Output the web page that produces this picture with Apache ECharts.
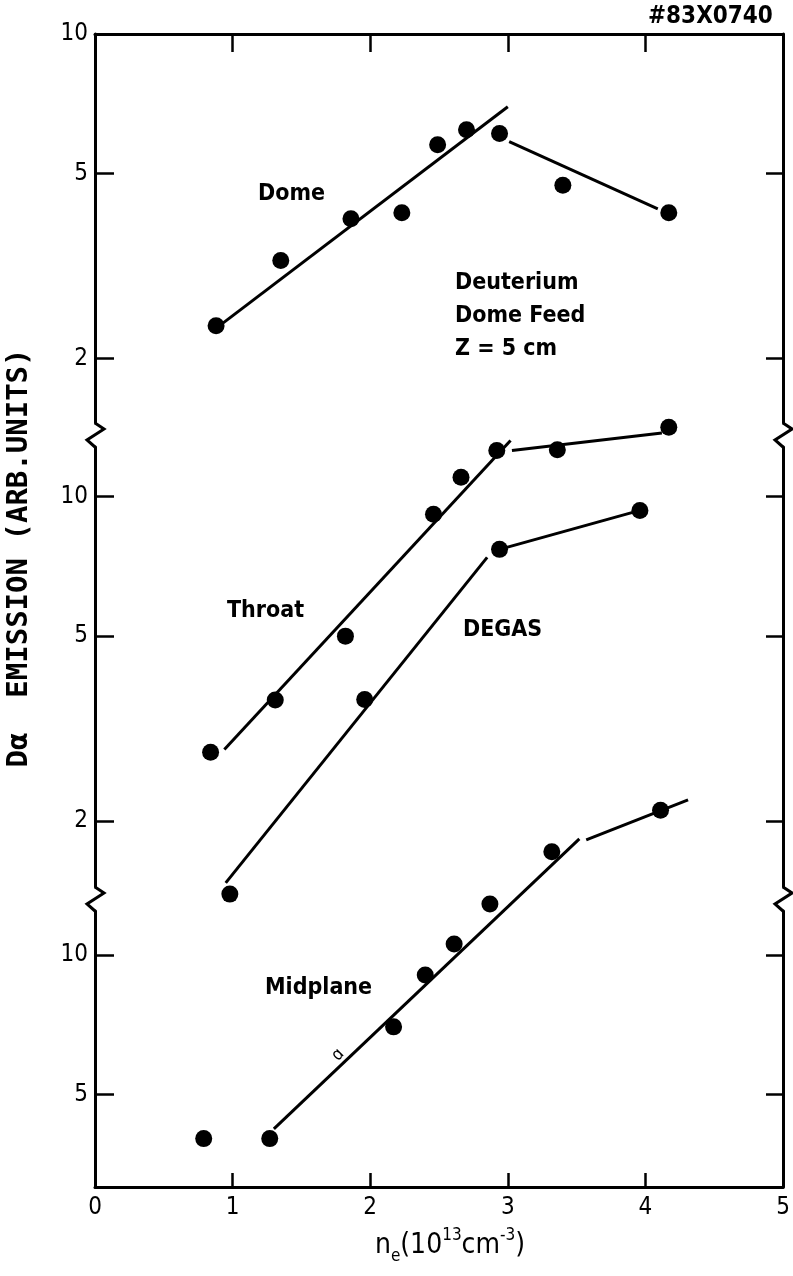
<!DOCTYPE html>
<html>
<head>
<meta charset="utf-8">
<script src="https://cdn.jsdelivr.net/npm/echarts@6/dist/echarts.min.js"></script>
<style>
  html, body { margin: 0; padding: 0; background: #fff; }
  #chart { width: 793px; height: 1276px; }
</style>
</head>
<body>
<div id="chart"></div>
<script>
// Electron density n_e (10^13 cm^-3) on x, D-alpha emission (arb. units) on y.
const xTicks = [0, 1, 2, 3, 4, 5];
const upperTicks = [2, 5, 10];
const centreTicks = [2, 5, 10];
const lowerTicks = [5, 10];

// Dome view (upper panel)
const domeNe = [0.88, 1.35, 1.86, 2.23, 2.49, 2.70, 2.94, 3.40, 4.17];
const domeEm = [2.35, 3.25, 4.00, 4.12, 5.77, 6.22, 6.10, 4.72, 4.12];
const domeFitRise = [[0.92, 2.37], [3.00, 6.97]];
const domeFitFall = [[3.01, 5.86], [4.09, 4.20]];

// Throat view (centre panel)
const throatNe = [0.84, 1.31, 1.82, 2.46, 2.66, 2.92, 3.36, 4.17];
const throatEm = [2.81, 3.64, 5.00, 9.15, 11.0, 12.56, 12.6, 14.1];
const throatFitRise = [[0.94, 2.85], [3.02, 13.2]];
const throatFitFlat = [[3.03, 12.56], [4.12, 13.7]];

// DEGAS code prediction (centre panel)
const degasNe = [0.98, 1.96, 2.94, 3.96];
const degasEm = [1.39, 3.65, 7.69, 9.33];
const degasFitRise = [[0.95, 1.47], [2.85, 7.39]];
const degasFitFlat = [[2.94, 7.69], [3.96, 9.33]];

// Midplane view (lower panel)
const midNe = [0.79, 1.27, 2.17, 2.40, 2.61, 2.87, 3.32, 4.11];
const midEm = [4.02, 4.02, 7.00, 9.06, 10.56, 12.88, 16.7, 20.5];
const midFitRise = [[1.30, 4.22], [3.52, 17.8]];
const midFitFlat = [[3.57, 17.7], [4.31, 21.6]];

// ---- layout ----
const LEFT = 95, RIGHT = 10;
const X_LEFT = LEFT, X_RIGHT = 793 - RIGHT;
const LABEL_FONT = "'DejaVu Sans Condensed', 'DejaVu Sans', sans-serif";
const INK = '#000';

// each panel is its own broken segment of a log scale
const panels = [
  { top: 34,  bottom: 423,  lo: 1.451, hi: 10,    ticks: upperTicks },
  { top: 447, bottom: 887,  lo: 1.440, hi: 12.78, ticks: centreTicks },
  { top: 911, bottom: 1187, lo: 3.162, hi: 12.44, ticks: lowerTicks }
];
const breaks = [435, 899];

const grids = panels.map(p => ({
  left: LEFT, right: RIGHT, top: p.top, height: p.bottom - p.top,
  outerBoundsMode: 'none', containLabel: false
}));

const xAxes = panels.map((p, i) => ({
  type: 'value', gridIndex: i, min: 0, max: 5, interval: 1,
  show: i !== 1,
  position: i === 0 ? 'top' : 'bottom',
  axisLine: { show: true, onZero: false, lineStyle: { color: INK, width: 3 } },
  axisTick: { show: true, inside: true, length: i === 0 ? 18 : 14,
              lineStyle: { color: INK, width: 2.5 } },
  axisLabel: { show: i === 2, color: INK, fontSize: 24, fontFamily: LABEL_FONT, margin: 9,
               customValues: xTicks },
  splitLine: { show: false },
  name: i === 2 ? '{m|n}{sub|e}{m|(10}{sup|13}{m|cm}{sup|-3}{m|)}' : '',
  nameLocation: 'middle',
  nameGap: 40,
  nameTextStyle: {
    padding: [0, 0, 0, 22],
    rich: {
      m:   { fontSize: 28, lineHeight: 38, fontFamily: LABEL_FONT, color: INK },
      sub: { fontSize: 17, verticalAlign: 'bottom', fontFamily: LABEL_FONT, color: INK },
      sup: { fontSize: 17, verticalAlign: 'top', fontFamily: LABEL_FONT, color: INK }
    }
  }
}));

const lg = v => Math.log10(v);
const yAxes = [];
panels.forEach((p, i) => {
  const tickVals = p.ticks.map(lg);
  // tick/label scale on the left
  yAxes.push({
    type: 'value', gridIndex: i, position: 'left',
    min: lg(p.lo), max: lg(p.hi),
    axisLine: { show: true, onZero: false, lineStyle: { color: INK, width: 3 } },
    axisTick: { show: true, inside: true, length: 19, customValues: tickVals,
                lineStyle: { color: INK, width: 2.5 } },
    axisLabel: { show: true, inside: false, margin: 7, color: INK, fontSize: 24,
                 fontFamily: LABEL_FONT, customValues: tickVals,
                 formatter: v => String(Math.round(Math.pow(10, v))) },
    splitLine: { show: false }
  });
  // matching ticks on the right edge
  yAxes.push({
    type: 'value', gridIndex: i, position: 'right',
    min: lg(p.lo), max: lg(p.hi),
    axisLine: { show: true, onZero: false, lineStyle: { color: INK, width: 3 } },
    axisTick: { show: true, inside: true, length: 17, customValues: tickVals,
                lineStyle: { color: INK, width: 2.5 } },
    axisLabel: { show: false },
    splitLine: { show: false }
  });
  // log scale that carries the data of this panel
  yAxes.push({
    type: 'log', logBase: 10, gridIndex: i, min: p.lo, max: p.hi, show: false
  });
});

const pairs = (xs, ys) => xs.map((x, k) => [x, ys[k]]);
const dataAxis = i => i * 3 + 2;
const dots = (i, xs, ys) => ({
  type: 'scatter', xAxisIndex: i, yAxisIndex: dataAxis(i), data: pairs(xs, ys),
  symbol: 'circle', symbolSize: 17, itemStyle: { color: INK, opacity: 1 }, clip: false, z: 4
});
const fit = (i, seg) => ({
  type: 'line', xAxisIndex: i, yAxisIndex: dataAxis(i), data: seg,
  symbol: 'none', showSymbol: false, clip: false,
  lineStyle: { color: INK, width: 3 }, z: 3
});

const series = [
  dots(0, domeNe, domeEm), fit(0, domeFitRise), fit(0, domeFitFall),
  dots(1, throatNe, throatEm), fit(1, throatFitRise), fit(1, throatFitFlat),
  dots(1, degasNe, degasEm), fit(1, degasFitRise), fit(1, degasFitFlat),
  dots(2, midNe, midEm), fit(2, midFitRise), fit(2, midFitFlat)
];

// axis-break glyphs
const zig = (x, y) => ({
  type: 'polyline', silent: true, z: 10,
  shape: { points: [[x, y - 12], [x + 9, y - 6], [x - 8, y + 5], [x, y + 12]] },
  style: { stroke: INK, lineWidth: 3, fill: null }
});

const label = (text, x, y, extra) => ({
  type: 'text', x: x, y: y, silent: true, z: 10,
  style: Object.assign({
    text: text, fill: INK, fontSize: 23, fontWeight: 'bold', fontFamily: LABEL_FONT,
    align: 'left', textAlign: 'left', verticalAlign: 'middle', textVerticalAlign: 'middle'
  }, extra || {})
});

const graphic = [
  zig(X_LEFT, breaks[0]), zig(X_RIGHT, breaks[0]),
  zig(X_LEFT, breaks[1]), zig(X_RIGHT, breaks[1]),
  label('Dome', 258, 194),
  label('Deuterium\nDome Feed\nZ = 5 cm', 455, 267,
        { lineHeight: 33, verticalAlign: 'top', textVerticalAlign: 'top' }),
  label('Throat', 227, 611),
  label('DEGAS', 463, 630),
  label('Midplane', 265, 988),
  label('#83X0740', 648, 17, { fontSize: 24 }),
  {
    type: 'text', x: 19, y: 558, rotation: Math.PI / 2, silent: true, z: 10,
    style: {
      text: 'D\u03b1  EMISSION (ARB.UNITS)', fill: INK, fontSize: 29, fontWeight: 'bold',
      fontFamily: "'DejaVu Sans Mono', monospace",
      align: 'center', textAlign: 'center', verticalAlign: 'middle', textVerticalAlign: 'middle'
    }
  },
  {
    type: 'text', x: 338, y: 1055, rotation: Math.PI / 4, silent: true, z: 10,
    style: { text: '\u0251', fill: INK, fontSize: 17, fontFamily: LABEL_FONT,
             align: 'center', textAlign: 'center', verticalAlign: 'middle', textVerticalAlign: 'middle' }
  }
];

const chart = echarts.init(document.getElementById('chart'), null, { renderer: 'canvas' });
chart.setOption({
  animation: false,
  backgroundColor: '#fff',
  grid: grids,
  xAxis: xAxes,
  yAxis: yAxes,
  series: series,
  graphic: graphic
});
</script>
</body>
</html>
